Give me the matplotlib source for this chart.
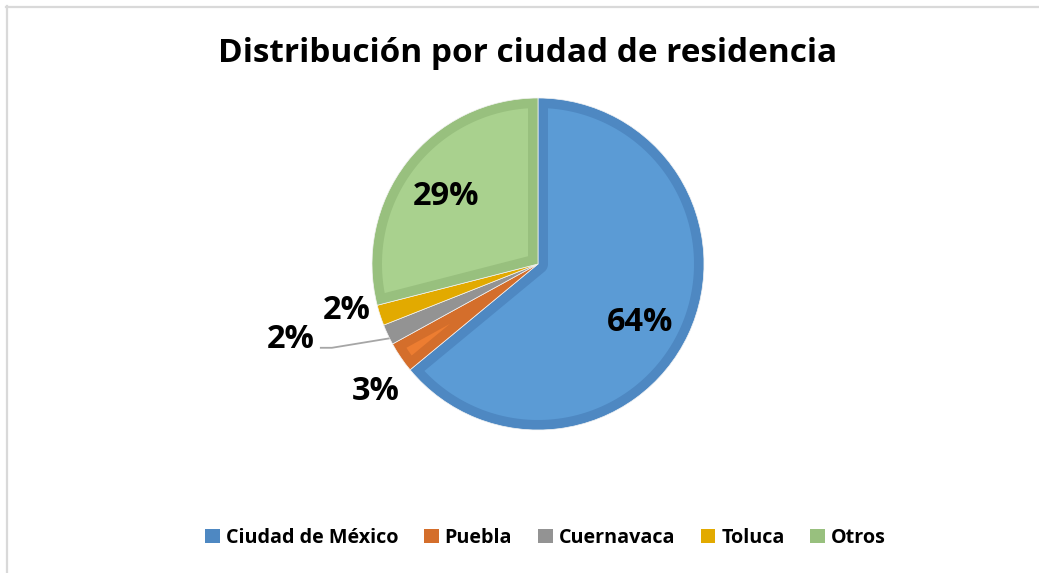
import matplotlib
matplotlib.use("Agg")
import matplotlib.pyplot as plt
import numpy as np
from matplotlib.lines import Line2D
from matplotlib.patches import Patch, Polygon

categories = ["Ciudad de México", "Puebla", "Cuernavaca", "Toluca", "Otros"]
values = [64, 3, 2, 2, 29]
labels = ["64%", "3%", "2%", "2%", "29%"]
title = "Distribución por ciudad de residencia"

face_colors = ["#5B9BD5", "#ED7D31", "#A5A5A5", "#F0B400", "#A9D18E"]
edge_colors = ["#4E88C2", "#D46E2B", "#939393", "#E2AA00", "#98C07E"]
# label placement: (radius factor, angle offset in degrees)
label_place = [(0.70, -3), (1.23, 3), (1.55, -9), (1.18, -5.5), (0.70, 0)]

plt.rcParams['font.family'] = ['Open Sans', 'DejaVu Sans']

W, H = 1039, 573
fig = plt.figure(figsize=(W / 100, H / 100), dpi=100)
ax = fig.add_axes([0, 0, 1, 1])

cx, cy, R = 538, H - 264, 166
BORDER = 10.0
LABEL_DY = -4

wedges, _ = ax.pie(values, startangle=90, counterclock=False, radius=R,
                   center=(cx, cy), colors=edge_colors, frame=True,
                   wedgeprops={'edgecolor': '#F4F4F4', 'linewidth': 0.5})
ax.set_xlim(0, W)
ax.set_ylim(0, H)
ax.set_aspect('equal')
ax.axis('off')


def inset_polygon(t1, t2, r, d, O):
    """Erosion of a circular sector (t1..t2 ccw, degrees) by distance d."""
    t1r, t2r = np.deg2rad(t1), np.deg2rad(t2)
    phi = t2r - t1r
    O = np.asarray(O, float)
    ri = r - d
    a = np.arcsin(d / ri)
    arc = np.linspace(t1r + a, t2r - a, 200)
    arc_pts = O + ri * np.column_stack([np.cos(arc), np.sin(arc)])
    if phi <= np.pi:
        h = phi / 2
        bis = t1r + h
        dist = d / np.sin(h)
        if dist >= ri - 1e-6 or t1r + a >= t2r - a:
            return None
        A = O + dist * np.array([np.cos(bis), np.sin(bis)])
        return np.vstack([A, arc_pts])
    n1 = np.array([-np.sin(t1r), np.cos(t1r)])
    n2 = np.array([np.sin(t2r), -np.cos(t2r)])
    p_start = O + d * n1
    p_end = O + d * n2
    small = np.linspace(t2r - np.pi / 2, t1r + np.pi / 2, 40)
    small_pts = O + d * np.column_stack([np.cos(small), np.sin(small)])
    return np.vstack([p_start, arc_pts, p_end, small_pts])


for w, fc in zip(wedges, face_colors):
    pts = inset_polygon(w.theta1, w.theta2, w.r, BORDER, w.center)
    if pts is not None:
        ax.add_patch(Polygon(pts, closed=True, facecolor=fc, edgecolor='none'))

total = sum(values)
start = 90.0
for i, (v, lab) in enumerate(zip(values, labels)):
    ang = start - v / total * 360 / 2
    start -= v / total * 360
    rf, off = label_place[i]
    a = np.deg2rad(ang + off)
    x = cx + rf * R * np.cos(a)
    y = cy + rf * R * np.sin(a)
    ax.text(x, y + LABEL_DY, lab, ha='center', va='center', fontsize=23.5,
            fontweight='bold', color='black')
    if categories[i] == "Cuernavaca":
        am = np.deg2rad(ang + 1.4)
        ex, ey = cx + R * np.cos(am), cy + R * np.sin(am)
        ax.plot([x + 29, x + 41, ex], [y - 12, y - 12, ey], color='#A6A6A6',
                lw=1.3, solid_capstyle='butt')

fig.text(0.508, 0.906, title, ha='center', va='center', fontsize=24,
         fontweight='bold', color='black')

handles = [Patch(facecolor=c, edgecolor='none') for c in edge_colors]
leg = fig.legend(handles, categories, loc='center', bbox_to_anchor=(0.525, 0.061),
                 ncol=5, frameon=False, handlelength=0.75, handleheight=0.75,
                 handletextpad=0.3, columnspacing=1.3,
                 prop={'weight': 'bold', 'size': 14.2})

# frame lines (top and left visible)
fig.add_artist(Line2D([6 / W, 1], [1 - 6.5 / H, 1 - 6.5 / H], color='#D9D9D9', lw=1.6,
                      transform=fig.transFigure))
fig.add_artist(Line2D([6.5 / W, 6.5 / W], [0, 1 - 6 / H], color='#D9D9D9', lw=1.6,
                      transform=fig.transFigure))

fig.savefig("out.png", dpi=100, facecolor='white')
